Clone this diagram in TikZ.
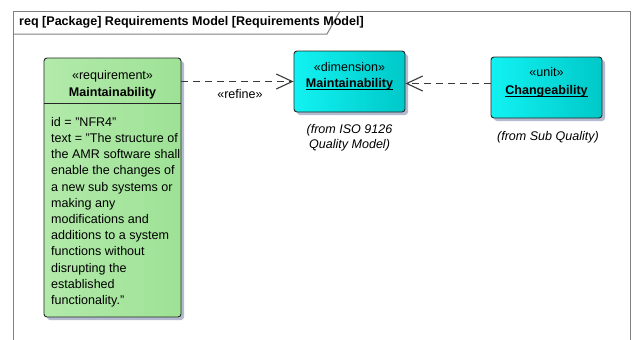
\documentclass[tikz,border=0pt]{standalone}
\usepackage{fontspec}
\setmainfont{Liberation Sans}
\usetikzlibrary{shadows,arrows.meta}
\definecolor{grnA}{HTML}{B2EAAA}
\definecolor{grnB}{HTML}{CFF5C9}
\definecolor{grnC}{HTML}{9EE296}
\definecolor{cyA}{HTML}{12F2F2}
\definecolor{cyB}{HTML}{00E4E4}
\definecolor{cyC}{HTML}{00C8C8}
\definecolor{shad}{HTML}{B4BACF}
\definecolor{frameg}{HTML}{808080}
\definecolor{depc}{HTML}{3A3A3A}
\definecolor{boxline}{HTML}{262626}
\newcommand{\myuln}[1]{{\setbox0\hbox{#1}\rlap{\rule[-2.2bp]{\wd0}{0.9bp}}\box0}}
\tikzset{
  umlbox/.style={draw=boxline, line width=0.9bp, rounded corners=3bp, inner sep=0pt,
    drop shadow={shadow xshift=3bp, shadow yshift=-3bp, fill=shad, opacity=1}},
  greenbox/.style={umlbox, left color=grnA, middle color=grnB, right color=grnC},
  cyanbox/.style={umlbox, left color=cyA, middle color=cyB, right color=cyC},
  txt/.style={inner sep=0pt, anchor=base, font=\fontsize{12.6pt}{16.2pt}\selectfont},
  btxt/.style={txt, font=\fontsize{12.6pt}{16.2pt}\selectfont\bfseries},
  itxt/.style={txt, font=\fontsize{12.6pt}{16.2pt}\selectfont\itshape},
  depline/.style={draw=depc, line width=1.1bp, dash pattern=on 7bp off 5bp,
    -{Straight Barb[length=16bp,width=15bp,line width=1.1bp]}},
  frameline/.style={draw=frameg, line width=1bp}
}
\begin{document}
\begin{tikzpicture}[x=1bp,y=-1bp]
\useasboundingbox (0,0) rectangle (633,339);
\fill[white] (0,0) rectangle (633,339);
% frame
\draw[frameline] (13,339.5) -- (13,11) -- (630,11) -- (630,339.5);
\draw[frameline] (13,34) -- (327,34) -- (340,11);
\node[btxt, anchor=base west] (title) at (19,25.5) {req [Package] Requirements Model [Requirements Model]};
% requirement box
\node[greenbox, minimum width=137bp, minimum height=259bp] (req) at (112.5,187.5) {};
\draw[line width=0.9bp, draw=boxline] (req.west |- 0,103) -- (req.east |- 0,103);
\node[txt] (reqst) at (112.5,79.5) {«requirement»};
\node[btxt] (reqnm) at (112.5,96.5) {Maintainability};
\begin{scope}
\clip (44,103) rectangle (180.5,317);
\foreach \t [count=\i from 0] in {id = "NFR4",
  text = "The structure of,
  the AMR software shall,
  enable the changes of,
  a new sub systems or,
  making any,
  modifications and,
  additions to a system,
  functions without,
  disrupting the,
  established,
  functionality."}
  \node[txt, anchor=base west] (body\i) at (51,126.3+16.2*\i) {\t};
\end{scope}
% dimension box
\node[cyanbox, minimum width=111bp, minimum height=61bp] (dim) at (349.5,81.5) {};
\node[txt] (dimst) at (349.5,71.5) {«dimension»};
\node[btxt] (dimnm) at (349.5,87.5) {\myuln{Maintainability}};
\node[itxt] (dimfr1) at (349.5,133.5) {(from ISO 9126};
\node[itxt] (dimfr2) at (349.5,148.5) {Quality Model)};
% unit box
\node[cyanbox, minimum width=111bp, minimum height=61bp] (unit) at (546.5,87.5) {};
\node[txt] (unitst) at (546.5,76.5) {«unit»};
\node[btxt] (unitnm) at (546.5,94.5) {\myuln{Changeability}};
\node[itxt] (unitfr) at (548,140.5) {(from Sub Quality)};
% connectors
\draw[depline] (req.east |- dim.west) -- (dim.west);
\node[txt] (refine) at (240,98.5) {«refine»};
\draw[depline] (unit.west |- 0,83.5) -- (dim.east |- 0,83.5);
\end{tikzpicture}
\end{document}
